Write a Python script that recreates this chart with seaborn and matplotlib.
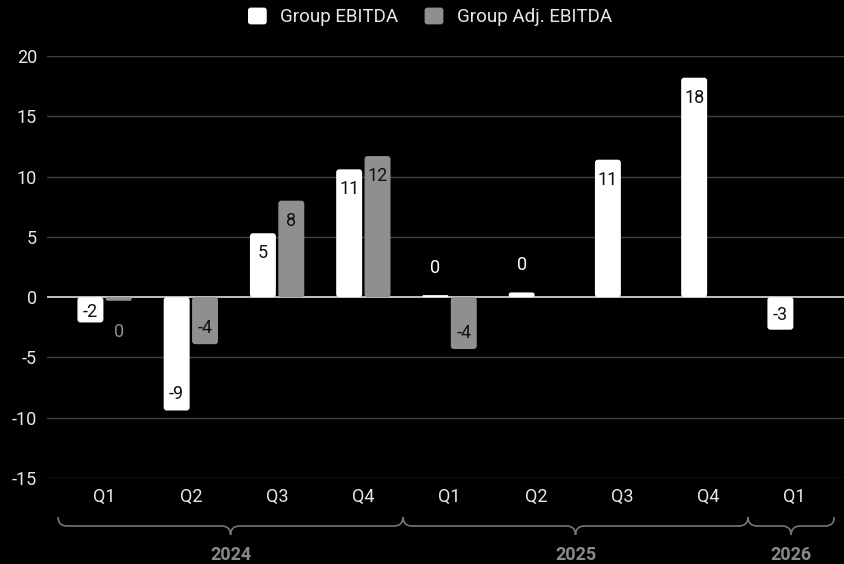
import numpy as np
import pandas as pd
import matplotlib
matplotlib.use("Agg")
import matplotlib.pyplot as plt
import seaborn as sns
from matplotlib.patches import FancyBboxPatch, PathPatch, Patch
from matplotlib.path import Path
from matplotlib.transforms import IdentityTransform
from matplotlib.legend_handler import HandlerPatch

# ---- data -------------------------------------------------------------
quarters = ["Q1", "Q2", "Q3", "Q4", "Q1", "Q2", "Q3", "Q4", "Q1"]
years = ["2024", "2024", "2024", "2024", "2025", "2025", "2025", "2025", "2026"]
ebitda = [-2.1, -9.4, 5.3, 10.6, 0.17, 0.39, 11.4, 18.2, -2.7]
adj_ebitda = [-0.3, -3.9, 8.0, 11.7, -4.3, np.nan, np.nan, np.nan, np.nan]
series_names = ["Group EBITDA", "Group Adj. EBITDA"]
series_colors = ["#ffffff", "#8f8f8f"]
y_ticks = [-15, -10, -5, 0, 5, 10, 15, 20]

periods = [f"{y} {q}" for y, q in zip(years, quarters)]
df = pd.DataFrame({
    "period": periods * 2,
    "series": [series_names[0]] * len(periods) + [series_names[1]] * len(periods),
    "value": ebitda + adj_ebitda,
})

# ---- style --------------------------------------------------------------
sns.set_theme(style="dark")
plt.rcParams["font.family"] = ["Roboto", "DejaVu Sans"]
plt.rcParams["axes.unicode_minus"] = False

W, H = 844, 564
fig = plt.figure(figsize=(W / 100, H / 100), dpi=100, facecolor="black")
ax = fig.add_axes([47 / W, 1 - 478 / H, 797 / W, 422 / H])
ax.set_facecolor("black")

sns.barplot(data=df, x="period", y="value", hue="series", order=periods,
            hue_order=series_names, palette=series_colors, saturation=1,
            width=0.658, gap=0.085, errorbar=None, legend=False, ax=ax)

ax.set_xlim(-0.668, 8.573)
ax.set_ylim(-15, 20)

for s in ax.spines.values():
    s.set_visible(False)
ax.set_xlabel("")
ax.set_ylabel("")
ax.set_yticks(y_ticks)
ax.set_yticklabels([str(t) for t in y_ticks])
ax.set_xticks(range(len(quarters)))
ax.set_xticklabels(quarters)
ax.tick_params(axis="y", length=0, pad=7.2, labelsize=13, labelcolor="#e8e8e8")
ax.tick_params(axis="x", length=0, pad=7.5, labelsize=13, labelcolor="#e8e8e8")
ax.grid(False)
for t in y_ticks:
    if t == 0:
        ax.axhline(0, color="#d0d0d0", lw=1.3, zorder=1)
    else:
        ax.axhline(t, color="#404040", lw=1.0, zorder=0)

# pixel scale of the data axes
fig.canvas.draw()
p0 = ax.transData.transform((0, 0))
p1 = ax.transData.transform((1, 1))
px_x = p1[0] - p0[0]
px_y = p1[1] - p0[1]

# ---- rounded bars + value labels -----------------------------------------
bars = []
for p in list(ax.patches):
    x, w, h = p.get_x(), p.get_width(), p.get_height()
    fc = p.get_facecolor()
    p.remove()
    if not np.isfinite(h):
        continue
    bars.append((x, w, h, fc))

for x, w, h, fc in bars:
    y0 = min(0, h)
    hh = abs(h)
    r_px = min(3.0, hh * px_y / 2, w * px_x / 2)
    patch = FancyBboxPatch((x, y0), w, hh,
                           boxstyle=f"round,pad=0,rounding_size={max(r_px, 1e-6) / px_x}",
                           mutation_aspect=px_x / px_y,
                           facecolor=fc, edgecolor="none", zorder=2)
    ax.add_patch(patch)

    label = f"{round(h):.0f}"
    sign = 1 if h >= 0 else -1
    length_px = hh * px_y
    if length_px < 12:
        off = 29 * sign
        color = fc
    else:
        off = -min(18, length_px / 2) * sign
        color = "#111111"
    ax.annotate(label, xy=(x + w / 2, h), xytext=(0, off),
                textcoords="offset pixels", ha="center", va="center_baseline",
                fontsize=13, color=color, zorder=3)

# ---- year braces ------------------------------------------------------------
def to_px(xd):
    return ax.transData.transform((xd, 0))[0]

y_top, y_line, y_tip = H - 517, H - 526, H - 535
r = 9
year_order = list(dict.fromkeys(years))
for yr in year_order:
    idx = [i for i, y in enumerate(years) if y == yr]
    x0 = to_px(idx[0] - 0.54)
    x1 = to_px(idx[-1] + 1 - 0.54)
    xc = (x0 + x1) / 2
    verts = [(x0, y_top), (x0, y_line), (x0 + r, y_line),
             (xc - r, y_line),
             (xc, y_line), (xc, y_tip),
             (xc, y_line), (xc + r, y_line),
             (x1 - r, y_line),
             (x1, y_line), (x1, y_top)]
    codes = [Path.MOVETO, Path.CURVE3, Path.CURVE3,
             Path.LINETO,
             Path.CURVE3, Path.CURVE3,
             Path.CURVE3, Path.CURVE3,
             Path.LINETO,
             Path.CURVE3, Path.CURVE3]
    fig.add_artist(PathPatch(Path(verts, codes), transform=IdentityTransform(),
                             facecolor="none", edgecolor="#767676", lw=1.2))
    fig.text(xc / W, 3.5 / H, yr, ha="center", va="baseline", fontsize=13,
             fontweight="bold", color="#8a8a8a")

# ---- legend -----------------------------------------------------------------
def rounded_square(legend, orig_handle, xdescent, ydescent, width, height, fontsize):
    return FancyBboxPatch((-xdescent, -ydescent), width, height,
                          boxstyle="round,pad=0,rounding_size=2")

handles = [Patch(facecolor=c, edgecolor="none", label=n)
           for n, c in zip(series_names, series_colors)]
fig.legend(handles=handles, loc="center", bbox_to_anchor=(430 / W, 1 - 17 / H),
           ncol=2, frameon=False, fontsize=13.5, labelcolor="#e8e8e8",
           handlelength=1.0, handleheight=1.0, handletextpad=0.72,
           columnspacing=1.4, borderpad=0,
           handler_map={Patch: HandlerPatch(patch_func=rounded_square)})

fig.savefig("out.png", dpi=100, facecolor="black")
